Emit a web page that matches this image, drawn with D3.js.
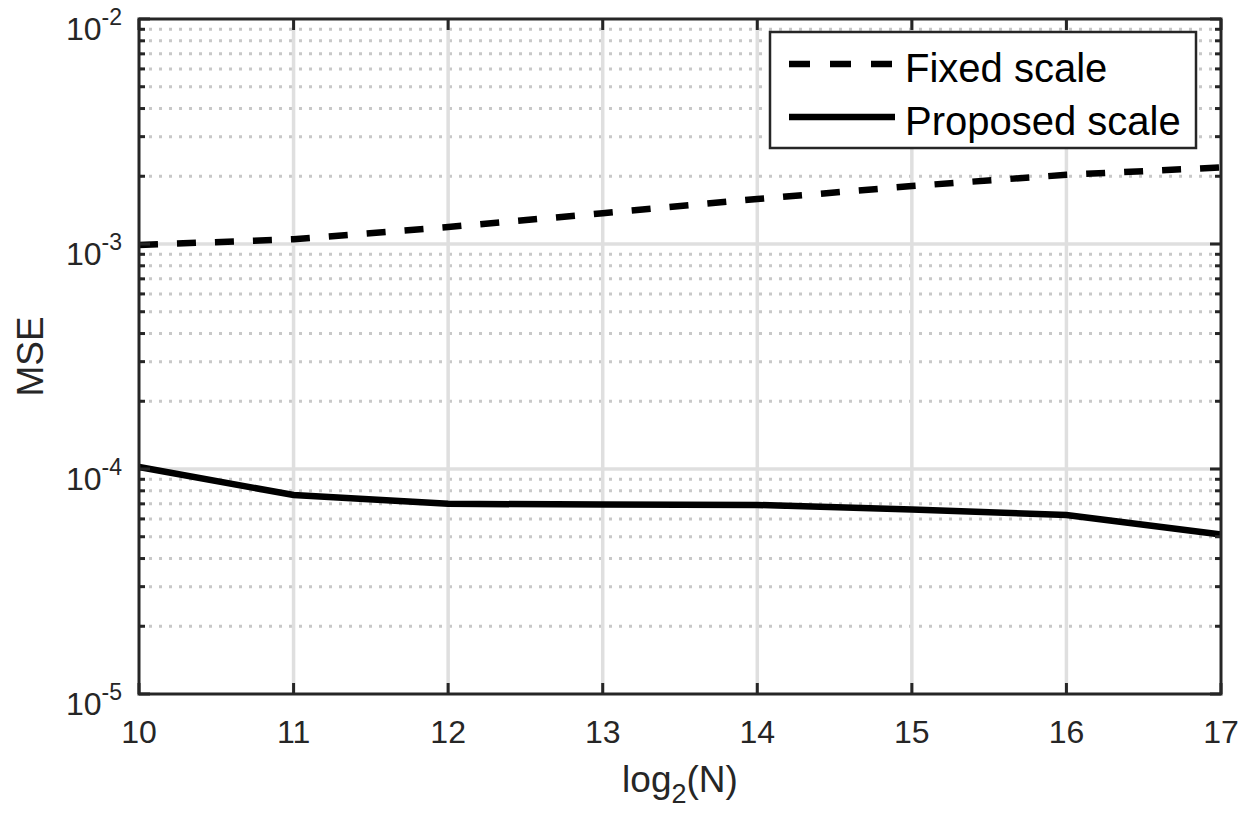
<!DOCTYPE html>
<html>
<head>
<meta charset="utf-8">
<script src="https://cdn.jsdelivr.net/npm/d3@7"></script>
<style>
  html, body { margin: 0; padding: 0; background: #fff; }
  svg { display: block; font-family: "Liberation Sans", Arial, Helvetica, sans-serif; }
</style>
</head>
<body>
<svg id="chart" width="1252" height="816"></svg>
<script>
// ---- data ----
const log2N = [10, 11, 12, 13, 14, 15, 16, 17];
const fixedScale = [9.9e-4, 1.05e-3, 1.19e-3, 1.37e-3, 1.585e-3, 1.81e-3, 2.03e-3, 2.19e-3];
const proposedScale = [1.02e-4, 7.66e-5, 7.0e-5, 6.95e-5, 6.92e-5, 6.6e-5, 6.25e-5, 5.12e-5];
const xTicks = [10, 11, 12, 13, 14, 15, 16, 17];
const yTickExponents = [-5, -4, -3, -2];
const seriesNames = ["Fixed scale", "Proposed scale"];
const xLabel = "log";
const xLabelSub = "2";
const xLabelTail = "(N)";
const yLabel = "MSE";

// ---- layout ----
const L = 139, R = 1221, T = 19, B = 694;
const svg = d3.select("#chart");
const x = d3.scaleLinear().domain([10, 17]).range([L, R]);
const y = d3.scaleLog().domain([1e-5, 1e-2]).range([B, T]);
const axisColor = "#262626";

// minor y values
const minorY = [];
for (let e = -5; e < -2; e++) {
  for (let m = 2; m <= 9; m++) minorY.push(m * Math.pow(10, e));
}
const majorY = yTickExponents.map(e => Math.pow(10, e));

// ---- grid ----
const grid = svg.append("g");
grid.selectAll("line.minor").data(minorY).enter().append("line")
  .attr("x1", L).attr("x2", R)
  .attr("y1", d => y(d)).attr("y2", d => y(d))
  .attr("stroke", "#c8c8c8").attr("stroke-width", 3)
  .attr("stroke-dasharray", "3,7");
grid.selectAll("line.majx").data(xTicks.slice(1, -1)).enter().append("line")
  .attr("x1", d => x(d)).attr("x2", d => x(d))
  .attr("y1", T).attr("y2", B)
  .attr("stroke", "#dfdfdf").attr("stroke-width", 3.5);
grid.selectAll("line.majy").data(majorY.slice(1, -1)).enter().append("line")
  .attr("x1", L).attr("x2", R)
  .attr("y1", d => y(d)).attr("y2", d => y(d))
  .attr("stroke", "#dfdfdf").attr("stroke-width", 3.5);

// ---- data lines ----
const line = d3.line().x(d => x(d[0])).y(d => y(d[1]));
svg.append("path")
  .datum(log2N.map((v, i) => [v, fixedScale[i]]))
  .attr("d", line).attr("fill", "none").attr("stroke", "#000")
  .attr("stroke-width", 6.5).attr("stroke-dasharray", "19,19");
svg.append("path")
  .datum(log2N.map((v, i) => [v, proposedScale[i]]))
  .attr("d", line).attr("fill", "none").attr("stroke", "#000")
  .attr("stroke-width", 6.5);

// ---- ticks (all four sides, inward) ----
const ticks = svg.append("g").attr("stroke", axisColor).attr("stroke-width", 3);
xTicks.forEach(v => {
  ticks.append("line").attr("x1", x(v)).attr("x2", x(v)).attr("y1", B).attr("y2", B - 11);
  ticks.append("line").attr("x1", x(v)).attr("x2", x(v)).attr("y1", T).attr("y2", T + 11);
});
majorY.forEach(v => {
  ticks.append("line").attr("x1", L).attr("x2", L + 11).attr("y1", y(v)).attr("y2", y(v));
  ticks.append("line").attr("x1", R).attr("x2", R - 11).attr("y1", y(v)).attr("y2", y(v));
});
minorY.forEach(v => {
  ticks.append("line").attr("x1", L).attr("x2", L + 6).attr("y1", y(v)).attr("y2", y(v));
  ticks.append("line").attr("x1", R).attr("x2", R - 6).attr("y1", y(v)).attr("y2", y(v));
});

// ---- frame ----
svg.append("rect").attr("x", L).attr("y", T).attr("width", R - L).attr("height", B - T)
  .attr("fill", "none").attr("stroke", axisColor).attr("stroke-width", 3);

// ---- tick labels ----
const xAxisG = svg.append("g");
xAxisG.selectAll("text").data(xTicks).enter().append("text")
  .attr("x", d => x(d)).attr("y", B + 49)
  .attr("text-anchor", "middle").attr("font-size", 32).attr("fill", axisColor)
  .text(d => d);

const yAxisG = svg.append("g");
yTickExponents.forEach(e => {
  const t = yAxisG.append("text")
    .attr("x", 122).attr("y", y(Math.pow(10, e)) + 21)
    .attr("text-anchor", "end").attr("font-size", 32).attr("fill", axisColor);
  t.append("tspan").text("10");
  t.append("tspan").attr("dy", -15).attr("font-size", 23).text(String(e));
});

// ---- axis labels ----
const xl = svg.append("text").attr("x", (L + R) / 2).attr("y", 792)
  .attr("text-anchor", "middle").attr("font-size", 37).attr("fill", axisColor);
xl.append("tspan").text(xLabel);
xl.append("tspan").attr("dy", 11).attr("font-size", 27).text(xLabelSub);
xl.append("tspan").attr("dy", -11).text(xLabelTail);

svg.append("text").attr("transform", `translate(43,${(T + B) / 2}) rotate(-90)`)
  .attr("text-anchor", "middle").attr("font-size", 37).attr("fill", axisColor)
  .text(yLabel);

// ---- legend ----
const lg = svg.append("g");
lg.append("rect").attr("x", 770).attr("y", 32).attr("width", 426).attr("height", 116)
  .attr("fill", "#fff").attr("stroke", axisColor).attr("stroke-width", 2.5);
const legendRows = [
  { name: seriesNames[0], dash: "21,20", cy: 64 },
  { name: seriesNames[1], dash: null, cy: 117 }
];
legendRows.forEach(r => {
  const ln = lg.append("line").attr("x1", 789).attr("x2", 895).attr("y1", r.cy).attr("y2", r.cy)
    .attr("stroke", "#000").attr("stroke-width", 6.5);
  if (r.dash) ln.attr("stroke-dasharray", r.dash);
  lg.append("text").attr("x", 905).attr("y", r.cy + 18).attr("font-size", 40)
    .attr("fill", "#000").text(r.name);
});
</script>
</body>
</html>
